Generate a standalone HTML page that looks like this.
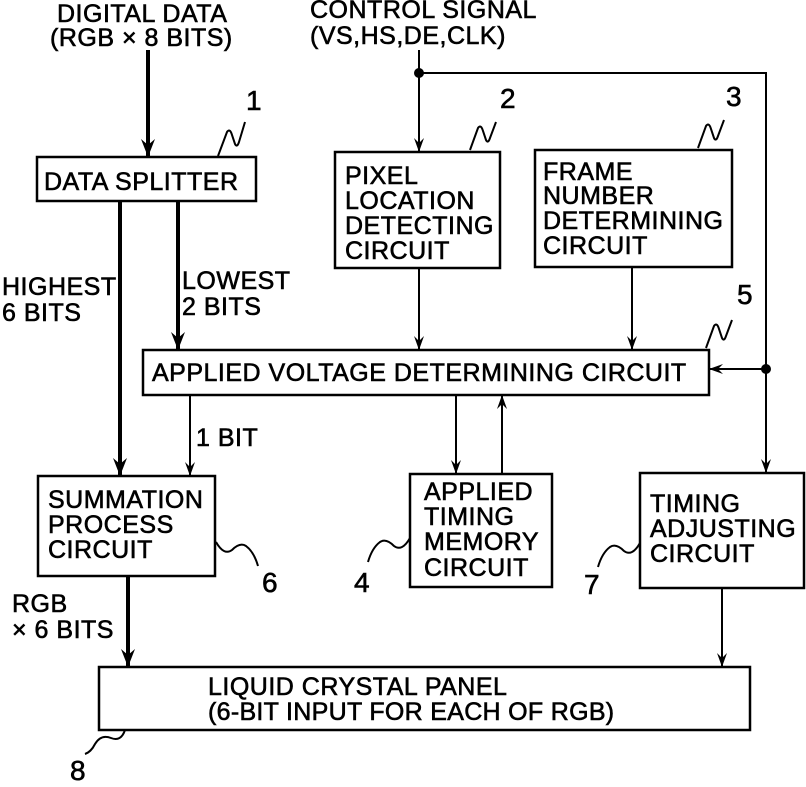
<!DOCTYPE html>
<html><head><style>body{margin:0;background:#fff}</style></head><body>
<svg width="806" height="782" xmlns="http://www.w3.org/2000/svg" font-family="Liberation Sans, Arial, sans-serif" font-size="25" letter-spacing="0.5" fill="#000">
<defs>
<marker id="a" markerWidth="14" markerHeight="10" refX="13" refY="5" orient="auto" markerUnits="userSpaceOnUse"><path d="M0,0 L14,5 L0,10 L5,5 Z" fill="#000"/></marker>
<marker id="b" markerWidth="18" markerHeight="14" refX="17" refY="7" orient="auto" markerUnits="userSpaceOnUse"><path d="M0,0 L18,7 L0,14 L6,7 Z" fill="#000"/></marker>
</defs>
<g fill="none" stroke="#000" stroke-width="2.5">
<rect x="37" y="157" width="219" height="44"/>
<rect x="335" y="152" width="165" height="116"/>
<rect x="535" y="150" width="197" height="117"/>
<rect x="143" y="350" width="566" height="45"/>
<rect x="38" y="476" width="177" height="100"/>
<rect x="410" y="474" width="142" height="113"/>
<rect x="640" y="473" width="164" height="115"/>
<rect x="99" y="667" width="651" height="63"/>
</g>
<g fill="none" stroke="#000" stroke-width="2">
<path d="M218,156 l9,-24 q3,-4 5,3 l3,9 q2,4 4,-2 l6,-20"/>
<path d="M470,150 l8,-22 q3,-4 5,3 l3,9 q2,4 4,-2 l6,-16"/>
<path d="M698,148 l8,-22 q3,-4 5,3 l3,9 q2,4 4,-2 l6,-16"/>
<path d="M706,348 l8,-22 q3,-4 5,3 l3,9 q2,4 4,-2 l6,-16"/>
<path d="M216,542 q8,14 16,8 q8,-8 14,-4 q8,6 12,20"/>
<path d="M410,538 q-8,14 -16,8 q-8,-8 -14,-4 q-8,6 -12,20"/>
<path d="M640,543 q-8,14 -16,8 q-8,-8 -14,-4 q-8,6 -12,20"/>
<path d="M125,730 q-4,12 -14,8 q-10,-4 -16,6 q-4,8 -10,10"/>
</g>
<g stroke="#000" fill="none">
<line x1="148" y1="50" x2="148" y2="156" stroke-width="4" marker-end="url(#b)"/>
<line x1="120" y1="201" x2="120" y2="475" stroke-width="4" marker-end="url(#b)"/>
<line x1="178" y1="201" x2="178" y2="349" stroke-width="4" marker-end="url(#b)"/>
<line x1="128" y1="576" x2="128" y2="666" stroke-width="4" marker-end="url(#b)"/>
<line x1="419" y1="50" x2="419" y2="151" stroke-width="2" marker-end="url(#a)"/>
<polyline points="419,73 766,73 766,472" stroke-width="2" marker-end="url(#a)"/>
<line x1="766" y1="369" x2="710" y2="369" stroke-width="2" marker-end="url(#a)"/>
<line x1="419" y1="268" x2="419" y2="349" stroke-width="2" marker-end="url(#a)"/>
<line x1="632" y1="267" x2="632" y2="349" stroke-width="2" marker-end="url(#a)"/>
<line x1="190" y1="395" x2="190" y2="475" stroke-width="2" marker-end="url(#a)"/>
<line x1="456" y1="395" x2="456" y2="473" stroke-width="2" marker-end="url(#a)"/>
<line x1="502" y1="474" x2="502" y2="396" stroke-width="2" marker-end="url(#a)"/>
<line x1="722" y1="588" x2="722" y2="666" stroke-width="2" marker-end="url(#a)"/>
</g>
<circle cx="419" cy="73" r="5"/><circle cx="766" cy="369" r="5"/>
<g stroke="#000" stroke-width="0.6">
<text x="57" y="22">DIGITAL DATA</text>
<text x="50" y="46">(RGB × 8 BITS)</text>
<text x="310" y="18">CONTROL SIGNAL</text>
<text x="310" y="44">(VS,HS,DE,CLK)</text>
<text x="44" y="190">DATA SPLITTER</text>
<text x="345" y="184">PIXEL</text>
<text x="345" y="209">LOCATION</text>
<text x="345" y="234">DETECTING</text>
<text x="345" y="259">CIRCUIT</text>
<text x="543" y="180">FRAME</text>
<text x="543" y="204">NUMBER</text>
<text x="543" y="229">DETERMINING</text>
<text x="543" y="254">CIRCUIT</text>
<text x="2" y="295">HIGHEST</text>
<text x="2" y="321">6 BITS</text>
<text x="182" y="289">LOWEST</text>
<text x="182" y="315">2 BITS</text>
<text x="152" y="381">APPLIED VOLTAGE DETERMINING CIRCUIT</text>
<text x="196" y="446">1 BIT</text>
<text x="48" y="508">SUMMATION</text>
<text x="48" y="533">PROCESS</text>
<text x="48" y="558">CIRCUIT</text>
<text x="424" y="500">APPLIED</text>
<text x="424" y="525">TIMING</text>
<text x="424" y="550">MEMORY</text>
<text x="424" y="576">CIRCUIT</text>
<text x="650" y="512">TIMING</text>
<text x="650" y="537">ADJUSTING</text>
<text x="650" y="562">CIRCUIT</text>
<text x="12" y="612">RGB</text>
<text x="12" y="638">× 6 BITS</text>
<text x="208" y="695">LIQUID CRYSTAL PANEL</text>
<text x="208" y="720" letter-spacing="0.3">(6-BIT INPUT FOR EACH OF RGB)</text>
<g font-size="28" letter-spacing="0">
<text x="246" y="110">1</text>
<text x="500" y="108">2</text>
<text x="726" y="106">3</text>
<text x="354" y="592">4</text>
<text x="737" y="304">5</text>
<text x="262" y="592">6</text>
<text x="584" y="594">7</text>
<text x="70" y="780">8</text>
</g>
</g>
</svg>
</body></html>
